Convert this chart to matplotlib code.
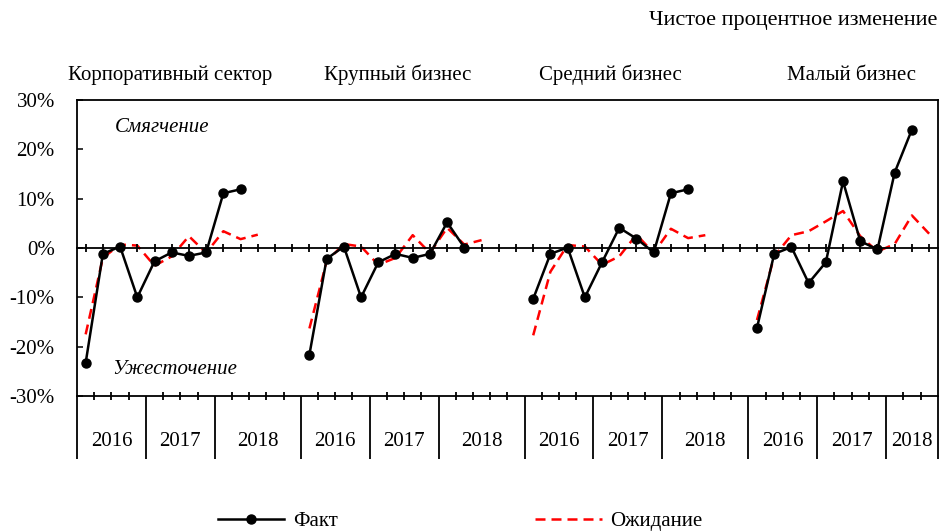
import numpy as np
import matplotlib
matplotlib.use("Agg")
import matplotlib.pyplot as plt
from matplotlib.ticker import FixedLocator, FuncFormatter
from matplotlib.transforms import blended_transform_factory

plt.rcParams['font.family'] = ['Liberation Serif', 'DejaVu Serif']
plt.rcParams['axes.unicode_minus'] = False

# данные
panels = ["Корпоративный сектор", "Крупный бизнес", "Средний бизнес", "Малый бизнес"]
years = ["2016", "2017", "2018"]
# число категорий (кварталов + пустых) в каждой группе лет по панелям
year_slots = [[4, 4, 5], [4, 4, 5], [4, 4, 5], [4, 4, 3]]

fact = [
    [-23.3, -1.2, 0.3, -10.0, -2.7, -0.9, -1.6, -0.9, 11.1, 11.9],
    [-21.6, -2.2, 0.3, -10.0, -2.9, -1.2, -2.0, -1.2, 5.2, 0.1],
    [-10.3, -1.2, 0.1, -10.0, -2.9, 4.1, 1.9, -0.9, 11.1, 11.9],
    [-16.2, -1.2, 0.2, -7.1, -2.9, 13.5, 1.4, -0.3, 15.3, 24.0],
]
expect = [
    [-17.5, -2.0, 0.7, 0.5, -3.6, -1.7, 2.4, -1.0, 3.4, 1.8, 2.7],
    [-16.3, -2.7, 0.8, 0.3, -3.4, -2.0, 2.6, -1.0, 4.1, 0.7, 1.6],
    [-17.7, -4.8, 0.6, 0.3, -3.4, -1.7, 2.7, -1.0, 3.9, 2.0, 2.6],
    [-14.6, -1.7, 2.6, 3.4, 5.4, 7.5, 2.4, -0.7, 0.8, 6.6, 2.9],
]

fig = plt.figure(figsize=(9.43, 5.31), dpi=100)
ax = fig.add_axes([0.0817, 0.2542, 0.9127, 0.5575])

total = sum(sum(s) for s in year_slots)
starts = np.cumsum([0] + [sum(s) for s in year_slots])[:-1]
title_offsets = [5.4, 5.6, 5.0, 6.0]

trans = blended_transform_factory(ax.transData, ax.transAxes)

for i, start in enumerate(starts):
    xf = start + np.arange(len(fact[i])) + 0.5
    xe = start + np.arange(len(expect[i])) + 0.5
    ax.plot(xe, expect[i], color='#ff0000', lw=1.8, ls=(0, (4, 2.4)), zorder=2,
            label="Ожидание" if i == 0 else None)
    ax.plot(xf, fact[i], color='black', lw=1.8, marker='o', ms=6.5, zorder=3,
            label="Факт" if i == 0 else None)
    ax.text(start + title_offsets[i], 1.084, panels[i], transform=trans,
            ha='center', va='center', fontsize=15)

ax.set_xlim(0, total)
ax.set_ylim(-30, 30)

# ось Y
ax.set_yticks(np.arange(-30, 31, 10))
ax.yaxis.set_major_formatter(FuncFormatter(lambda v, p: "%d%%" % v))
ax.tick_params(axis='y', direction='in', length=4.5, width=1.1, pad=16, labelsize=15)

# ось X снизу: границы категорий и групп лет
bounds = []
centers = []
labels = []
for start, slots in zip(starts, year_slots):
    pos = start
    for y, n in zip(years, slots):
        bounds.append(pos)
        centers.append(pos + n / 2)
        labels.append(y)
        pos += n
bounds.append(total)

ax.xaxis.set_major_locator(FixedLocator(bounds))
ax.xaxis.set_minor_locator(FixedLocator(np.arange(0, total + 1)))
ax.xaxis.set_major_formatter(FuncFormatter(lambda v, p: ""))
ax.tick_params(axis='x', which='major', direction='out', length=45, width=1.3)
ax.tick_params(axis='x', which='minor', direction='inout', length=6, width=1.3)

for c, lab in zip(centers, labels):
    ax.text(c, -0.152, lab, transform=trans, ha='center', va='center', fontsize=15)

# нулевая линия с делениями в центрах категорий
ax0 = ax.twiny()
ax0.set_xlim(0, total)
for s in ['top', 'left', 'right']:
    ax0.spines[s].set_visible(False)
ax0.spines['bottom'].set_position(('data', 0))
ax0.spines['bottom'].set_linewidth(1.3)
ax0.xaxis.set_ticks_position('bottom')
ax0.set_xticks(np.arange(total) + 0.5)
ax0.tick_params(axis='x', direction='inout', length=6, width=1.3, labelbottom=False, labeltop=False)

for s in ax.spines.values():
    s.set_linewidth(1.3)

ax.text(2.2, 24.5, "Смягчение", style='italic', fontsize=15, ha='left', va='center')
ax.text(2.05, -24.7, "Ужесточение", style='italic', fontsize=15, ha='left', va='center')

fig.text(0.994, 0.962, "Чистое процентное изменение", ha='right', va='center', fontsize=16)

handles, labs = ax.get_legend_handles_labels()
fig.legend([handles[1], handles[0]], [labs[1], labs[0]], loc='center', bbox_to_anchor=(0.488, 0.018),
           ncol=2, frameon=False, fontsize=15, handlelength=3.2, handletextpad=0.4,
           columnspacing=9.5)

fig.savefig("out.png", dpi=100)
